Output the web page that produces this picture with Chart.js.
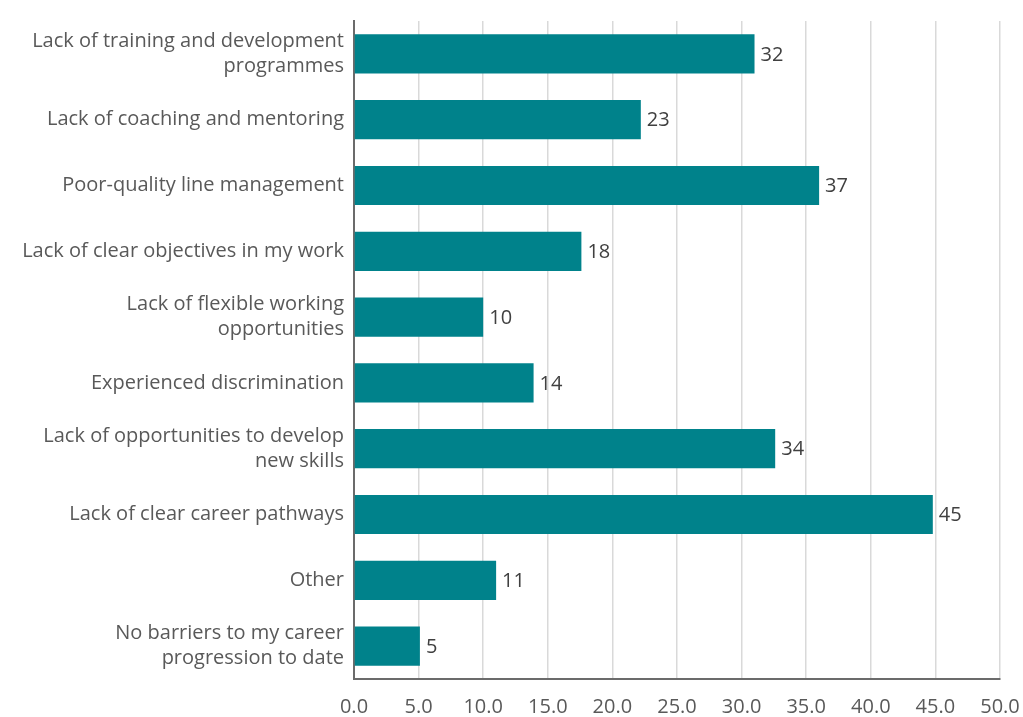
<!DOCTYPE html>
<html>
<head>
<meta charset="utf-8">
<script src="https://cdn.jsdelivr.net/npm/chart.js@4"></script>
<style>
  html, body { margin: 0; padding: 0; background: #fff; }
  #wrap { width: 1023px; height: 717px; position: relative; }
</style>
</head>
<body>
<div id="wrap"><canvas id="chart"></canvas></div>
<script>
// categories (wrapped like the original)
const categories = [
  ['Lack of training and development', 'programmes'],
  'Lack of coaching and mentoring',
  'Poor-quality line management',
  'Lack of clear objectives in my work',
  ['Lack of flexible working', 'opportunities'],
  'Experienced discrimination',
  ['Lack of opportunities to develop', 'new skills'],
  'Lack of clear career pathways',
  'Other',
  ['No barriers to my career', 'progression to date']
];
// bar lengths as drawn in the picture
const barValues = [31.0, 22.2, 36.0, 17.6, 10.0, 13.9, 32.6, 44.8, 11.0, 5.1];
// value labels printed next to the bars
const valueLabels = ['32', '23', '37', '18', '10', '14', '34', '45', '11', '5'];
const xMin = 0, xMax = 50, xStep = 5;

const FONT = '"Open Sans", sans-serif';

// Draw value labels at the end of each bar
const barLabels = {
  id: 'barLabels',
  afterDatasetsDraw(chart) {
    const ctx = chart.ctx;
    const meta = chart.getDatasetMeta(0);
    ctx.save();
    ctx.font = '20px ' + FONT;
    ctx.fillStyle = '#404040';
    ctx.textAlign = 'left';
    ctx.textBaseline = 'middle';
    meta.data.forEach((bar, i) => {
      ctx.fillText(valueLabels[i], bar.x + 6, bar.y + 1);
    });
    ctx.restore();
  }
};

new Chart(document.getElementById('chart'), {
  type: 'bar',
  data: {
    labels: categories,
    datasets: [{
      data: barValues,
      backgroundColor: '#00828B',
      borderWidth: 0,
      barPercentage: 0.595,
      categoryPercentage: 1.0
    }]
  },
  options: {
    indexAxis: 'y',
    responsive: true,
    maintainAspectRatio: false,
    animation: false,
    layout: { padding: { top: 21, right: 23, left: 0, bottom: 0 } },
    plugins: {
      legend: { display: false },
      tooltip: { enabled: false }
    },
    scales: {
      x: {
        min: xMin,
        max: xMax,
        ticks: {
          stepSize: xStep,
          color: '#595959',
          font: { family: FONT, size: 20 },
          padding: 16,
          callback: v => v.toFixed(1)
        },
        grid: { color: '#d9d9d9', lineWidth: 1.5, drawTicks: false },
        border: { color: '#6b6b6b', width: 2 },
        afterFit: s => { s.height = 38; s.paddingLeft = 0; s.paddingRight = 0; }
      },
      y: {
        ticks: {
          color: '#595959',
          font: { family: FONT, size: 20, lineHeight: 1.25 },
          padding: 10,
          autoSkip: false
        },
        grid: { display: false, drawTicks: false },
        border: { color: '#6b6b6b', width: 2 },
        afterFit: s => { s.width = 354; s.paddingTop = 0; s.paddingBottom = 0; }
      }
    }
  },
  plugins: [barLabels]
});
</script>
</body>
</html>
